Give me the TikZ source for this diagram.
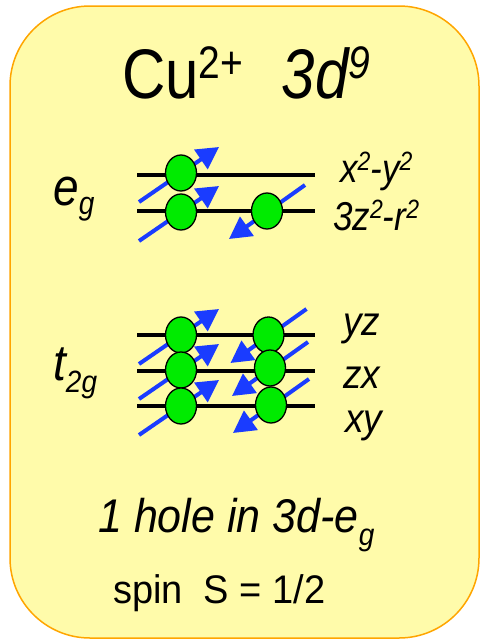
\documentclass[tikz,border=0pt]{standalone}
\usepackage{fontspec}
\setmainfont{Liberation Sans}
\usetikzlibrary{shapes.geometric,arrows.meta,calc}
\definecolor{boxfill}{RGB}{255,251,170}
\definecolor{boxline}{RGB}{255,165,0}
\definecolor{elec}{RGB}{0,235,0}
\definecolor{spinblue}{RGB}{26,60,255}
\newcommand{\fsz}[1]{\fontsize{#1}{#1}\selectfont}
\begin{document}
\begin{tikzpicture}[x=1pt,y=-1pt,
  orb/.style={line width=4pt, black},
  elecnode/.style={ellipse, draw=black, line width=1.3pt, fill=elec, minimum width=31pt, minimum height=36pt, inner sep=0pt},
  spinarrow/.style={spinblue, line width=4pt, -{Triangle[length=22pt,width=23pt]}},
  lbl/.style={inner sep=0pt, anchor=base west}]
\useasboundingbox (0,0) rectangle (480,641);
\draw[boxline, fill=boxfill, line width=1.5pt, rounded corners=80pt] (10,6) rectangle (479,638);

% level lines
\coordinate (l1a) at (137,175); \coordinate (l1b) at (315,175);
\coordinate (l2a) at (137,211); \coordinate (l2b) at (315,211);
\coordinate (l3a) at (137,335); \coordinate (l3b) at (315,335);
\coordinate (l4a) at (137,371); \coordinate (l4b) at (315,371);
\coordinate (l5a) at (137,406); \coordinate (l5b) at (315,406);
\foreach \i in {1,...,5} { \draw[orb] (l\i a) -- (l\i b); }

% electron positions
\coordinate (pA) at (181,173);
\coordinate (pB) at (181,212);
\coordinate (pC) at (267,211);
\coordinate (pD) at (181,335);
\coordinate (pE) at (181,370);
\coordinate (pF) at (181,406);
\coordinate (pG) at (268.5,335);
\coordinate (pH) at (270,368);
\coordinate (pI) at (271,405);

% spin arrows
\foreach \p in {pA,pB,pD,pE,pF} { \draw[spinarrow] ($(\p)+(-42,29)$) -- ($(\p)+(38,-26)$); }
\foreach \p in {pC,pG,pH,pI} { \draw[spinarrow] ($(\p)+(38,-26)$) -- ($(\p)+(-38,28)$); }

% electrons
\foreach \p in {A,B,C,D,E,F,G,H,I} { \node[elecnode] (e\p) at (p\p) {}; }

% texts
\node[lbl] (title) at (122,98) {\scalebox{1}[1.17]{\fsz{60}Cu\raisebox{17pt}{\fsz{39}2+}~~\hspace{5pt}\itshape 3d\raisebox{17pt}{\fsz{39}9}}};
\node[lbl] (eg) at (53,205) {\scalebox{1}[1.15]{\fsz{46}\itshape e\raisebox{-8pt}{\fsz{28}g}}};
\node[lbl] (t2g) at (53,380) {\scalebox{1}[1.1]{\fsz{46}\itshape t\raisebox{-11pt}{\fsz{28}2g}}};
\node[lbl] (x2y2) at (340,182) {\scalebox{1}[1.15]{\fsz{35}\itshape x\raisebox{10pt}{\fsz{23}2}-y\raisebox{10pt}{\fsz{23}2}}};
\node[lbl] (z2r2) at (333,230) {\scalebox{1}[1.15]{\fsz{35}\itshape 3z\raisebox{10pt}{\fsz{23}2}-r\raisebox{10pt}{\fsz{23}2}}};
\node[lbl] (yz) at (343,335) {\scalebox{1}[1.1]{\fsz{37}\itshape yz}};
\node[lbl] (zx) at (343,388) {\scalebox{1}[1.1]{\fsz{37}\itshape zx}};
\node[lbl] (xy) at (345,432) {\scalebox{1}[1.1]{\fsz{37}\itshape xy}};
\node[lbl] (hole) at (98,532) {\scalebox{1}[1.1]{\fsz{43}\itshape 1 hole in 3d-e\raisebox{-12pt}{\fsz{28}g}}};
\node[lbl] (spin) at (113,603) {\scalebox{1}[1.05]{\fsz{38}spin~~S = 1/2}};
\end{tikzpicture}
\end{document}
